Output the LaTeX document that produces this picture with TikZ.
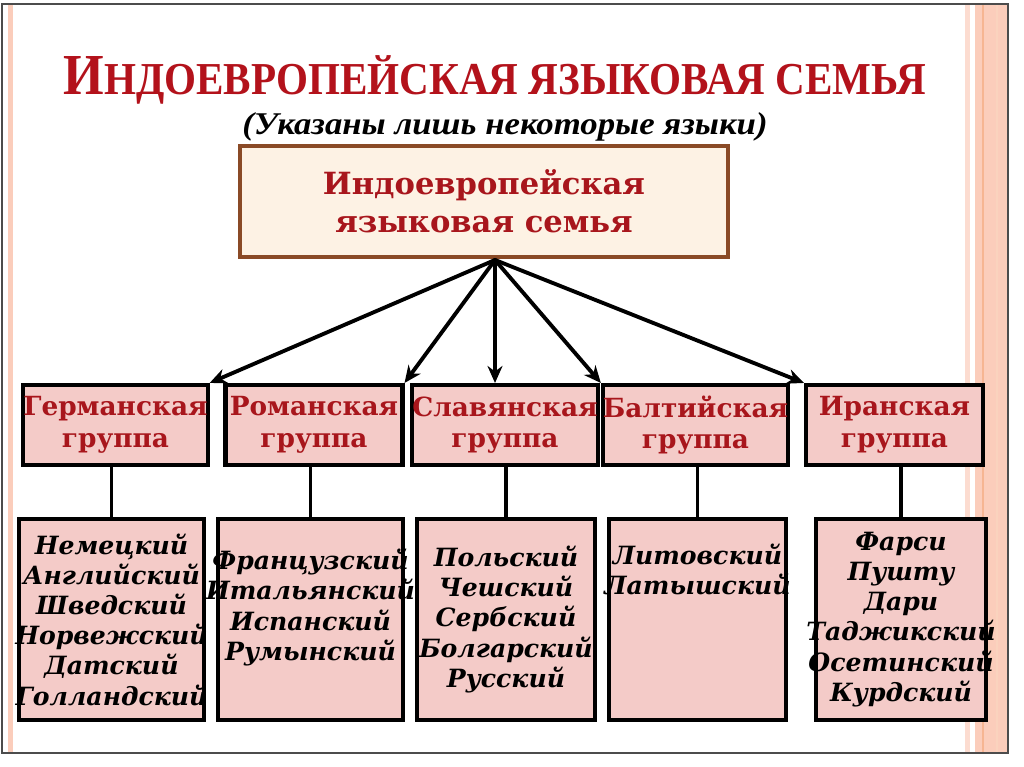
\documentclass[tikz,border=0pt]{standalone}
\usepackage{fontspec}
\setmainfont{DejaVu Serif}
\newfontfamily\titlefont{Liberation Serif}
\usetikzlibrary{arrows.meta}
\definecolor{titlered}{HTML}{B3121B}
\definecolor{grpred}{HTML}{A8161C}
\definecolor{boxpink}{HTML}{F4CBC8}
\definecolor{cream}{HTML}{FDF2E4}
\definecolor{rim}{HTML}{8A4A26}
\definecolor{salmon}{HTML}{FBCDBB}
\definecolor{salmonlt}{HTML}{FCDCD0}
\definecolor{streak}{HTML}{F6B592}

\begin{document}
\begin{tikzpicture}[>={Stealth[length=3.4mm,width=3mm]},line cap=round,
  grp/.style={draw=black,line width=2.3pt,fill=boxpink,minimum width=3.54cm,minimum height=1.6cm,inner sep=0pt,align=center,text=grpred,font=\fontsize{15}{18}\selectfont\bfseries},
  lang/.style={draw=black,line width=2.3pt,fill=boxpink,minimum height=4.02cm,inner sep=0pt},
  langtxt/.style={align=center,inner sep=0pt,font=\fontsize{14.3}{17.2}\selectfont\bfseries\itshape},
  link/.style={line width=2.2pt}]
\useasboundingbox (0,0) rectangle (20.48,15.34);
\fill[white] (0,0) rectangle (20.48,15.34);
% slide frame and side stripes
\fill[salmon] (0.16,0.28) rectangle (0.26,15.26);
\fill[salmonlt] (19.30,0.28) rectangle (19.40,15.26);
\fill[salmon] (19.50,0.28) rectangle (20.14,15.26);
\draw[streak,line width=1pt] (19.66,0.28) -- (19.66,15.26);
\draw[streak!60,line width=0.8pt] (19.94,0.28) -- (19.94,15.26);
\draw[gray!60!black,line width=0.6pt] (0.04,0.28) rectangle (20.16,15.26);
% headings
\node[anchor=base,text=titlered,xscale=0.9] (title) at (9.9,13.44) {\titlefont\bfseries\fontsize{33}{33}\selectfont И\fontsize{26}{26}\selectfont НДОЕВРОПЕЙСКАЯ ЯЗЫКОВАЯ СЕМЬЯ};
\node[anchor=base,xscale=1.1] (sub) at (10.1,12.64) {\titlefont\fontsize{18}{18}\selectfont\bfseries\itshape (Указаны лишь некоторые языки)};
\node[draw=rim,line width=2pt,fill=cream,minimum width=9.76cm,minimum height=2.22cm,align=center,text=grpred,font=\fontsize{17.4}{21.6}\selectfont\bfseries] (fam) at (9.68,11.31) {Индоевропейская\\языковая семья};
\coordinate (hub) at (9.90,10.14);
% groups
\node[grp] (germ) at (2.31,6.84) {Германская\\группа};
\node[grp] (rom) at (6.28,6.84) {Романская\\группа};
\node[grp] (slav) at (10.10,6.84) {Славянская\\группа};
\node[grp] (balt) at (13.91,6.84) {Балтийская\\группа};
\node[grp] (iran) at (17.89,6.84) {Иранская\\группа};
\draw[->,link] (hub) -- (germ.north east);
\draw[->,link] (hub) -- (rom.north east);
\draw[->,link] (hub) -- (hub |- slav.north);
\draw[->,link] (hub) -- (balt.north west);
\draw[->,link] (hub) -- (iran.north west);
% languages
\node[lang,minimum width=3.70cm] (germL) at (2.23,2.95) {};
\node[lang,minimum width=3.70cm] (romL) at (6.21,2.95) {};
\node[lang,minimum width=3.56cm] (slavL) at (10.12,2.95) {};
\node[lang,minimum width=3.54cm] (baltL) at (13.95,2.95) {};
\node[lang,minimum width=3.40cm] (iranL) at (18.02,2.95) {};
\draw[link] (germL.north |- germ.south) -- (germL.north);
\draw[link] (romL.north |- rom.south) -- (romL.north);
\draw[link] (slavL.north |- slav.south) -- (slavL.north);
\draw[link] (baltL.north |- balt.south) -- (baltL.north);
\draw[link] (iranL.north |- iran.south) -- (iranL.north);
\node[langtxt] (germT) at (germL) {Немецкий\\Английский\\Шведский\\Норвежский\\Датский\\Голландский};
\node[langtxt] (romT) at ([yshift=0.24cm]romL.center) {Французский\\Итальянский\\Испанский\\Румынский};
\node[langtxt] (slavT) at (slavL) {Польский\\Чешский\\Сербский\\Болгарский\\Русский};
\node[langtxt] (baltT) at ([yshift=1cm]baltL.center) {Литовский\\Латышский};
\node[langtxt] (iranT) at (iranL) {Фарси\\Пушту\\Дари\\Таджикский\\Осетинский\\Курдский};
\end{tikzpicture}
\end{document}
